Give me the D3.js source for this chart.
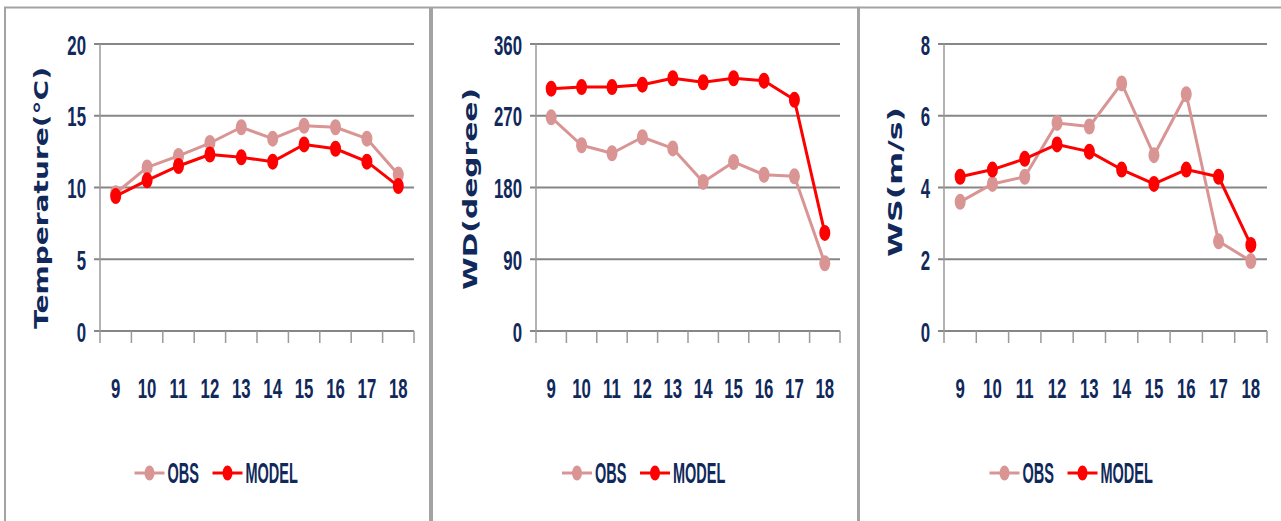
<!DOCTYPE html>
<html><head><meta charset="utf-8">
<script src="https://cdn.jsdelivr.net/npm/d3@7"></script>
<style>body{margin:0;background:#fff}svg{display:block}</style>
</head><body><div id="chart"></div>
<script>
const hours=[9,10,11,12,13,14,15,16,17,18];
const tempObs=[9.6,11.4,12.2,13.1,14.2,13.4,14.3,14.2,13.4,10.9];
const tempModel=[9.4,10.5,11.5,12.3,12.1,11.8,13.0,12.7,11.8,10.1];
const wdObs=[268,233,223,243,229,187,212,196,194,85];
const wdModel=[304,306,306,309,317,312,317,314,290,123];
const wsObs=[3.6,4.1,4.3,5.8,5.7,6.9,4.9,6.6,2.5,1.95];
const wsModel=[4.3,4.5,4.8,5.2,5.0,4.5,4.1,4.5,4.3,2.4];
const tempTicks=[0,5,10,15,20], wdTicks=[0,90,180,270,360], wsTicks=[0,2,4,6,8];
const seriesNames=["OBS","MODEL"];

const colors={OBS:"#d99594",MODEL:"#ff0000"}, navy="#10295a", grid="#868686";
const W=1281,H=521,plotTop=44,plotBottom=331;
const svg=d3.select("#chart").append("svg").attr("width",W).attr("height",H);

const panels=[
  {title:"Temperature(°C)",ticks:tempTicks,obs:tempObs,model:tempModel,box:[5,430],plot:[100,414],tx:41,ty:198,tl:262},
  {title:"WD(degree)",ticks:wdTicks,obs:wdObs,model:wdModel,box:[432,858],plot:[536,840],tx:470,ty:189,tl:202},
  {title:"WS(m/s)",ticks:wsTicks,obs:wsObs,model:wsModel,box:[859,1290],plot:[944,1267],tx:895,ty:182,tl:150}
];

function label(g,x,y,str,size,sx,anchor){
  return g.append("text").attr("transform",`translate(${x},${y}) scale(${sx},1)`)
    .attr("text-anchor",anchor).attr("dominant-baseline","central")
    .attr("font-family","'Liberation Sans',Arial,sans-serif").attr("font-weight",700)
    .attr("font-size",size).attr("fill",navy).text(str);
}

panels.forEach(p=>{
  const g=svg.append("g");
  g.append("rect").attr("x",p.box[0]).attr("y",7.5).attr("width",p.box[1]-p.box[0]).attr("height",H)
    .attr("fill","none").attr("stroke","#a3a3a3").attr("stroke-width",2);
  const x=d3.scaleBand().domain(hours).range(p.plot);
  const y=d3.scaleLinear().domain(d3.extent(p.ticks)).range([plotBottom,plotTop]);
  const bw=x.bandwidth();
  // gridlines + y labels
  p.ticks.forEach(t=>{
    g.append("line").attr("x1",p.plot[0]-6).attr("x2",p.plot[1]).attr("y1",y(t)).attr("y2",y(t))
      .attr("stroke",grid).attr("stroke-width",2.2);
    label(g,p.plot[0]-14,y(t)+1,t,28,0.6,"end");
  });
  g.append("line").attr("x1",p.plot[0]).attr("x2",p.plot[0]).attr("y1",plotTop).attr("y2",plotBottom+12)
    .attr("stroke","#9a9a9a").attr("stroke-width",1.5);
  hours.forEach(h=>{
    g.append("line").attr("x1",x(h)+bw).attr("x2",x(h)+bw).attr("y1",plotBottom).attr("y2",plotBottom+12)
      .attr("stroke","#9a9a9a").attr("stroke-width",1.5);
    label(g,x(h)+bw/2,388,h,28,0.6,"middle");
  });
  // axis title
  g.append("text").attr("transform",`translate(${p.tx},${p.ty}) rotate(-90)`)
    .attr("text-anchor","middle").attr("dominant-baseline","central")
    .attr("font-family","'DejaVu Sans',Verdana,sans-serif").attr("font-weight",700).attr("font-size",20)
    .attr("textLength",p.tl).attr("lengthAdjust","spacingAndGlyphs").attr("fill",navy).text(p.title);
  // series
  const line=d3.line().x((d,i)=>x(hours[i])+bw/2).y(d=>y(d));
  [["OBS",p.obs],["MODEL",p.model]].forEach(([name,vals])=>{
    g.append("path").attr("d",line(vals)).attr("fill","none").attr("stroke",colors[name])
      .attr("stroke-width",3).attr("stroke-linejoin","round");
    g.selectAll(null).data(vals).join("ellipse")
      .attr("cx",(d,i)=>x(hours[i])+bw/2).attr("cy",d=>y(d)).attr("rx",5.5).attr("ry",8)
      .attr("fill",colors[name]);
  });
  // legend
  const cx=(p.box[0]+Math.min(p.box[1],W+5))/2, s=cx-83;
  const offs=[0,78], widths=[30,30];
  seriesNames.forEach((name,i)=>{
    const lx=s+offs[i];
    g.append("line").attr("x1",lx).attr("x2",lx+widths[i]).attr("y1",473).attr("y2",473)
      .attr("stroke",colors[name]).attr("stroke-width",3);
    g.append("ellipse").attr("cx",lx+15).attr("cy",473).attr("rx",5).attr("ry",7.5).attr("fill",colors[name]);
    label(g,lx+33,473,name,29,0.5,"start");
  });
});
</script></body></html>
